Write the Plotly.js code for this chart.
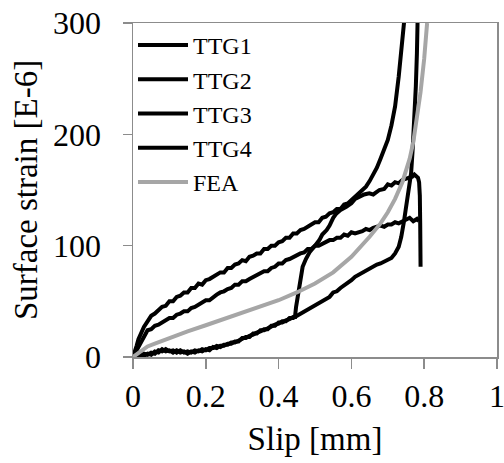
<!DOCTYPE html>
<html>
<head>
<meta charset="utf-8">
<script src="https://cdn.plot.ly/plotly-3.0.1.min.js"></script>
<style>
  html, body { margin: 0; padding: 0; background: #fff; }
  #chart { width: 504px; height: 463px; }
</style>
</head>
<body>
<div id="chart"></div>
<script>
// ---- Data ----
const seriesNames = ["TTG1", "TTG2", "TTG3", "TTG4", "FEA"];

const ttg1Slip = [0, 0.005, 0.01, 0.015, 0.02, 0.03, 0.04, 0.05, 0.06, 0.07, 0.08, 0.09, 0.10, 0.11, 0.12, 0.13, 0.14, 0.15, 0.16, 0.17, 0.18, 0.19, 0.20, 0.21, 0.22, 0.23, 0.24, 0.25, 0.26, 0.27, 0.28, 0.29, 0.30, 0.31, 0.32, 0.33, 0.34, 0.35, 0.36, 0.37, 0.38, 0.39, 0.40, 0.41, 0.42, 0.43, 0.44, 0.45, 0.46, 0.47, 0.48, 0.49, 0.50, 0.51, 0.52, 0.53, 0.54, 0.55, 0.56, 0.57, 0.58, 0.59, 0.60, 0.61, 0.62, 0.63, 0.64, 0.65, 0.66, 0.67, 0.68, 0.69, 0.70, 0.71, 0.72, 0.73, 0.74, 0.746];
const ttg1Strain = [0, 4, 10, 16, 20, 27, 32, 37, 39, 42, 45, 46, 50, 50, 54, 55, 58, 58, 62, 62, 66, 65, 69, 70, 72, 73, 76, 76, 80, 80, 83, 84, 87, 86, 90, 91, 93, 93, 97, 97, 100, 100, 103, 104, 107, 107, 111, 111, 114, 115, 117, 118, 121, 121, 125, 126, 129, 130, 133, 133, 137, 138, 141, 144, 147, 150, 153, 158, 164, 170, 178, 186, 195, 208, 225, 252, 282, 305];

const ttg2Slip = [0, 0.01, 0.02, 0.03, 0.04, 0.05, 0.06, 0.07, 0.08, 0.09, 0.10, 0.11, 0.12, 0.13, 0.14, 0.15, 0.16, 0.17, 0.18, 0.19, 0.20, 0.21, 0.22, 0.23, 0.24, 0.25, 0.26, 0.27, 0.28, 0.29, 0.30, 0.31, 0.32, 0.33, 0.34, 0.35, 0.36, 0.37, 0.38, 0.39, 0.40, 0.41, 0.42, 0.43, 0.44, 0.45, 0.46, 0.47, 0.48, 0.49, 0.50, 0.51, 0.52, 0.53, 0.54, 0.55, 0.56, 0.57, 0.58, 0.59, 0.60, 0.61, 0.62, 0.63, 0.64, 0.65, 0.66, 0.67, 0.68, 0.69, 0.70, 0.71, 0.72, 0.73, 0.74, 0.75, 0.76, 0.77, 0.78, 0.785];
const ttg2Strain = [0, 6, 13, 19, 24, 25, 28, 29, 31, 33, 35, 35, 38, 39, 41, 41, 44, 45, 47, 48, 51, 51, 54, 56, 58, 59, 61, 62, 65, 65, 68, 68, 70, 72, 73, 75, 77, 77, 80, 81, 84, 84, 87, 88, 90, 91, 93, 94, 97, 97, 100, 100, 102, 103, 105, 105, 107, 107, 110, 109, 112, 111, 112, 113, 115, 114, 116, 117, 118, 117, 119, 119, 121, 120, 122, 123, 125, 122, 124, 122];

const ttg3Slip = [0, 0.01, 0.02, 0.03, 0.04, 0.05, 0.06, 0.07, 0.08, 0.09, 0.10, 0.11, 0.12, 0.13, 0.14, 0.15, 0.16, 0.17, 0.18, 0.19, 0.20, 0.21, 0.22, 0.23, 0.24, 0.25, 0.26, 0.27, 0.28, 0.29, 0.30, 0.31, 0.32, 0.33, 0.34, 0.35, 0.36, 0.37, 0.38, 0.39, 0.40, 0.41, 0.42, 0.43, 0.44, 0.445, 0.448, 0.452, 0.458, 0.466, 0.475, 0.485, 0.50, 0.512, 0.52, 0.532, 0.54, 0.55, 0.559, 0.57, 0.586, 0.60, 0.61, 0.622, 0.635, 0.649, 0.66, 0.677, 0.69, 0.70, 0.71, 0.72, 0.73, 0.74, 0.75, 0.76, 0.767, 0.773, 0.778, 0.783, 0.786, 0.788, 0.789, 0.790, 0.790];
const ttg3Strain = [0, 1, 3, 1, 3, 2, 5, 4, 7, 5, 6, 4, 6, 4, 5, 3, 5, 4, 6, 5, 7, 6, 9, 8, 10, 10, 12, 12, 14, 14, 17, 17, 19, 20, 22, 23, 25, 25, 28, 28, 31, 31, 33, 34, 36, 36, 45, 54, 68, 81, 88, 94, 100, 105, 110, 114, 118, 125, 129, 132, 135, 138, 142, 144, 146, 147, 146, 150, 151, 155, 154, 157, 156, 159, 160, 161, 162, 164, 163, 161, 157, 145, 120, 100, 81];

const ttg4Slip = [0, 0.01, 0.02, 0.03, 0.04, 0.05, 0.06, 0.07, 0.08, 0.09, 0.10, 0.11, 0.12, 0.13, 0.14, 0.15, 0.16, 0.17, 0.18, 0.19, 0.20, 0.21, 0.22, 0.23, 0.24, 0.25, 0.26, 0.27, 0.28, 0.29, 0.30, 0.31, 0.32, 0.33, 0.34, 0.35, 0.36, 0.37, 0.38, 0.39, 0.40, 0.41, 0.42, 0.43, 0.44, 0.45, 0.46, 0.47, 0.48, 0.49, 0.50, 0.51, 0.52, 0.53, 0.54, 0.55, 0.56, 0.57, 0.58, 0.59, 0.60, 0.61, 0.62, 0.63, 0.64, 0.65, 0.66, 0.67, 0.68, 0.69, 0.70, 0.71, 0.72, 0.73, 0.737, 0.742, 0.745, 0.749, 0.753, 0.758, 0.764, 0.768, 0.773, 0.777, 0.780, 0.782];
const ttg4Strain = [0, 2, 1, 3, 2, 4, 3, 6, 5, 7, 5, 6, 4, 6, 4, 5, 4, 6, 5, 7, 6, 8, 8, 10, 9, 11, 11, 13, 13, 15, 16, 18, 18, 21, 21, 24, 24, 26, 27, 29, 30, 32, 32, 35, 35, 37, 38, 41, 42, 45, 46, 49, 50, 53, 54, 58, 59, 62, 64, 67, 69, 72, 74, 76, 77, 80, 81, 83, 84, 86, 87, 89, 93, 99, 108, 116, 123, 132, 141, 152, 165, 185, 213, 243, 273, 305];

const feaSlip = [0, 0.02, 0.04, 0.06, 0.08, 0.10, 0.15, 0.20, 0.25, 0.30, 0.35, 0.40, 0.45, 0.50, 0.55, 0.60, 0.65, 0.68, 0.70, 0.72, 0.74, 0.76, 0.77, 0.78, 0.79, 0.80, 0.808];
const feaStrain = [0, 5, 9.5, 12, 14.5, 17, 23, 28.5, 34, 39.5, 45, 51, 58, 66, 76, 90, 108, 120, 130, 142, 157, 178, 193, 213, 238, 268, 300];

const xTickVals = [0, 0.2, 0.4, 0.6, 0.8, 1];
const xTickText = ["0", "0.2", "0.4", "0.6", "0.8", "1"];
const yTickVals = [0, 100, 200, 300];
const yTickText = ["0", "100", "200", "300"];

const xTitle = "Slip [mm]";
const yTitle = "Surface strain [E-6]";

// ---- Styling ----
const BLACK = "#000000";
const GREY = "#A6A6A6";
const AXIS = "#8C8C8C";
const FONT = "Liberation Serif";

const xs = [ttg1Slip, ttg2Slip, ttg3Slip, ttg4Slip, feaSlip];
const ys = [ttg1Strain, ttg2Strain, ttg3Strain, ttg4Strain, feaStrain];
const colors = [BLACK, BLACK, BLACK, BLACK, GREY];

const traces = seriesNames.map((name, i) => ({
  type: "scatter",
  mode: "lines",
  name: name,
  x: xs[i],
  y: ys[i],
  line: { color: colors[i], width: 4, shape: "linear" },
  cliponaxis: true,
  hoverinfo: "skip"
}));

const layout = {
  width: 504,
  height: 463,
  margin: { l: 133, r: 7, t: 23, b: 106, pad: 0 },
  paper_bgcolor: "#ffffff",
  plot_bgcolor: "#ffffff",
  font: { family: FONT, size: 32, color: "#000" },
  showlegend: true,
  legend: {
    x: 0.0, xanchor: "left",
    y: 1.0, yanchor: "top",
    bgcolor: "rgba(255,255,255,0)",
    borderwidth: 0,
    font: { family: FONT, size: 24, color: "#000" },
    itemwidth: 50,
    tracegroupgap: 0,
    traceorder: "normal"
  },
  xaxis: {
    range: [0, 1],
    tickvals: xTickVals,
    ticktext: xTickText,
    showgrid: false,
    zeroline: false,
    showline: true,
    linecolor: AXIS,
    linewidth: 1.5,
    mirror: true,
    ticks: "outside",
    ticklen: 10,
    tickwidth: 1.5,
    tickcolor: AXIS,
    ticklabelstandoff: 0,
    ticklabeloverflow: "allow",
    tickfont: { family: FONT, size: 32, color: "#000" },
    title: { text: xTitle, font: { family: FONT, size: 33, color: "#000" }, standoff: 14 },
    fixedrange: true
  },
  yaxis: {
    range: [0, 300],
    tickvals: yTickVals,
    ticktext: yTickText,
    showgrid: false,
    zeroline: false,
    showline: true,
    linecolor: AXIS,
    linewidth: 1.5,
    mirror: true,
    ticks: "outside",
    ticklen: 9,
    tickwidth: 1.5,
    tickcolor: AXIS,
    ticklabelstandoff: 15,
    tickfont: { family: FONT, size: 32, color: "#000" },
    title: { text: yTitle, font: { family: FONT, size: 33, color: "#000" }, standoff: 5 },
    fixedrange: true
  }
};

function draw() {
  Plotly.newPlot("chart", traces, layout, { displayModeBar: false, staticPlot: true });
}
if (document.fonts && document.fonts.load) {
  document.fonts.load("32px 'Liberation Serif'").then(draw, draw);
} else {
  draw();
}
</script>
</body>
</html>
